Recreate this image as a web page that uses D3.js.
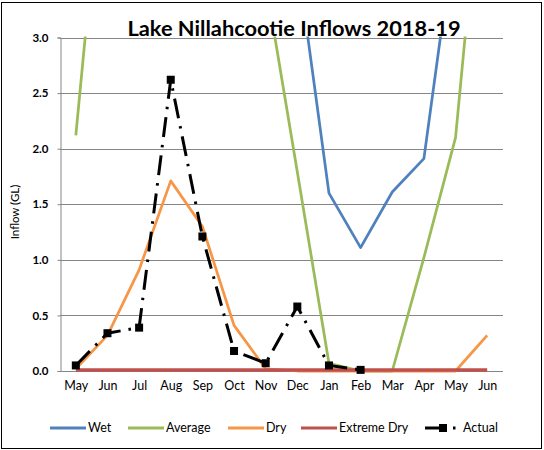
<!DOCTYPE html>
<meta charset="utf-8">
<script src="https://d3js.org/d3.v7.min.js"></script>
<style type="text/css">
  body { margin: 0; background: #fff; }
  text { font-family: Lato, "Open Sans", sans-serif; }
</style>
<body>
<svg width="544" height="450"></svg>
<script>

    // months May 2018 .. Jun 2019
    let months = ['May','Jun','Jul','Aug','Sep','Oct','Nov','Dec','Jan','Feb','Mar','Apr','May','Jun']

    // scenario inflows (GL); values above 3.0 run off the top of the chart
    let wet = [4.0, 9.0, 14.0, 16.0, 14.0, 10.0, 6.0, 3.7, 1.6, 1.11, 1.61, 1.91, 4.0, 9.0]
    let average = [2.12, 5.1, 7.5, 9.0, 8.0, 5.5, 3.5, 1.79, 0.07, 0, 0, 1.02, 2.1, 5.1]
    let dry = [0.02, 0.32, 0.91, 1.71, 1.3, 0.41, 0.02, 0, 0, 0, 0, 0, 0, 0.32]
    let extremeDry = [0.01, 0.01, 0.01, 0.01, 0.01, 0.01, 0.01, 0.01, 0.01, 0.01, 0.01, 0.01, 0.01, 0.01]
    let actual = [0.05, 0.34, 0.39, 2.62, 1.21, 0.18, 0.07, 0.58, 0.05, 0.01]

    let yTicks = [0, 0.5, 1.0, 1.5, 2.0, 2.5, 3.0]

    let series = [
        {name:'Wet', values:wet, color:'#4F81BD', width:2.75},
        {name:'Average', values:average, color:'#9BBB59', width:2.75},
        {name:'Dry', values:dry, color:'#F79646', width:2.75},
        {name:'Extreme Dry', values:extremeDry, color:'#C0504D', width:3.5}
    ]

    let svg = d3.select('svg')

    svg.append('rect')
        .attr('x', 1.5).attr('y', 2.5)
        .attr('width', 540).attr('height', 446)
        .attr('fill', '#fff').attr('stroke', '#000').attr('stroke-width', 1)

    let pLeft = 60, pRight = 503, pTop = 37.5, pBottom = 371

    let x = d3.scalePoint().domain(d3.range(months.length)).range([pLeft, pRight]).padding(0.5),
        y = d3.scaleLinear().domain([0, 3]).range([pBottom, pTop])

    // gridlines
    svg.append('g').selectAll('line').data(yTicks).enter().append('line')
        .attr('x1', pLeft).attr('x2', pRight)
        .attr('y1', d => Math.round(y(d)) + 0.5).attr('y2', d => Math.round(y(d)) + 0.5)
        .attr('stroke', '#868686').attr('stroke-width', 1)

    // y axis
    let yAxis = svg.append('g')
        .attr('transform', `translate(${pLeft + 0.5},0)`)
        .call(d3.axisLeft(y).tickValues(yTicks).tickFormat(d3.format('.1f')).tickSize(3).tickPadding(9))
    yAxis.select('.domain').attr('stroke', '#868686')
    yAxis.selectAll('.tick line').attr('stroke', '#868686')
    yAxis.selectAll('.tick text')
        .style('font-family', 'Lato, sans-serif')
        .style('font-size', '11.5px').style('font-weight', 'bold').attr('fill', '#000')

    // x axis labels
    let xAxis = svg.append('g')
        .attr('transform', `translate(0,${pBottom})`)
        .call(d3.axisBottom(x).tickFormat(i => months[i]).tickSize(0).tickPadding(10))
    xAxis.select('.domain').remove()
    xAxis.selectAll('.tick text')
        .style('font-family', 'Lato, sans-serif')
        .style('font-size', '12.5px').attr('fill', '#000')

    svg.append('text')
        .attr('transform', 'translate(19,212) rotate(-90)')
        .attr('text-anchor', 'middle')
        .style('font-size', '11.5px')
        .text('Inflow (GL)')

    // clip lines to the plot area
    svg.append('defs').append('clipPath').attr('id', 'plot')
        .append('rect').attr('x', pLeft).attr('y', pTop - 1).attr('width', pRight - pLeft + 10).attr('height', pBottom - pTop + 10)

    let line = d3.line().x((d, i) => x(i)).y(d => y(d))

    let plot = svg.append('g').attr('clip-path', 'url(#plot)')

    plot.selectAll('path.scenario').data(series).enter().append('path')
        .attr('class', 'scenario')
        .attr('d', d => line(d.values))
        .attr('fill', 'none')
        .attr('stroke', d => d.color)
        .attr('stroke-width', d => d.width)
        .attr('stroke-linejoin', 'round')

    let dash = '20,8,2.5,8'

    plot.append('path')
        .attr('d', line(actual))
        .attr('fill', 'none')
        .attr('stroke', '#000')
        .attr('stroke-width', 3)
        .attr('stroke-dasharray', dash)

    plot.selectAll('rect.mark').data(actual).enter().append('rect')
        .attr('class', 'mark')
        .attr('x', (d, i) => x(i) - 4).attr('y', d => y(d) - 4)
        .attr('width', 8).attr('height', 8)
        .attr('fill', '#000')

    // title
    svg.append('text')
        .attr('x', 294).attr('y', 36)
        .attr('text-anchor', 'middle')
        .style('font-size', '21.8px').style('font-weight', 'bold')
        .text('Lake Nillahcootie Inflows 2018-19')

    // legend
    let legendItems = [
        {name:'Wet', color:'#4F81BD', x1:50, width:3},
        {name:'Average', color:'#9BBB59', x1:128, width:3},
        {name:'Dry', color:'#F79646', x1:228, width:3},
        {name:'Extreme Dry', color:'#C0504D', x1:301, width:3},
        {name:'Actual', color:'#000', x1:425, width:3, dash:dash, marker:true}
    ]
    let ly = 428

    let legend = svg.append('g').selectAll('g').data(legendItems).enter().append('g')

    legend.append('line')
        .attr('x1', d => d.x1).attr('x2', d => d.x1 + 36)
        .attr('y1', ly).attr('y2', ly)
        .attr('stroke', d => d.color)
        .attr('stroke-width', d => d.width)
        .attr('stroke-dasharray', d => d.dash || null)

    legend.filter(d => d.marker).append('rect')
        .attr('x', d => d.x1 + 18 - 4).attr('y', ly - 4)
        .attr('width', 8).attr('height', 8).attr('fill', '#000')

    legend.append('text')
        .attr('x', d => d.x1 + 38).attr('y', ly + 4)
        .style('font-size', '12.5px')
        .text(d => d.name)

</script>
</body>
